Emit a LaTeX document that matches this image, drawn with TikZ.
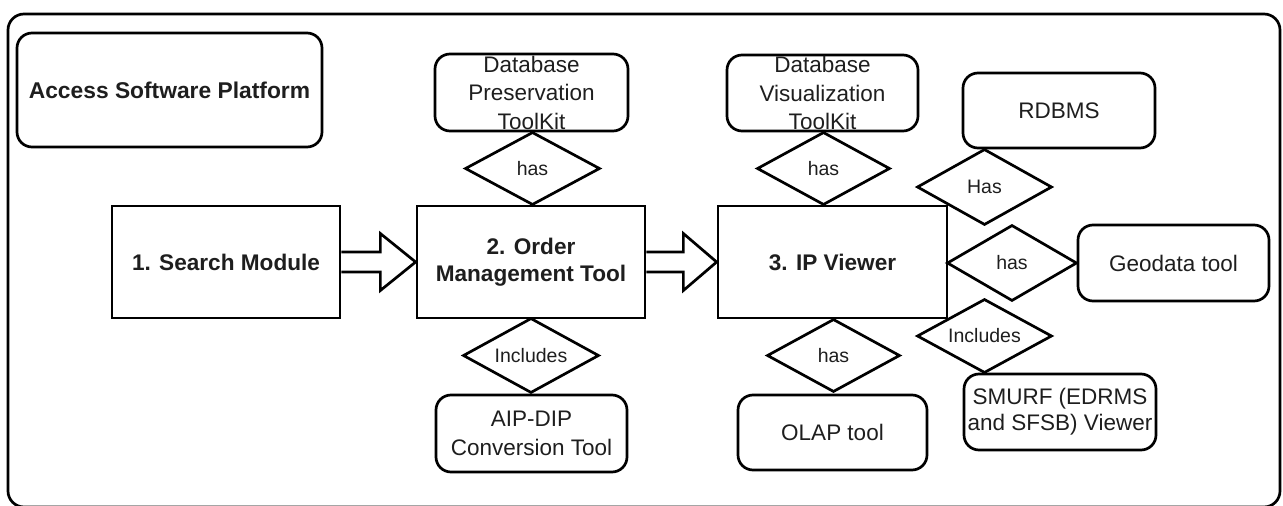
\documentclass[tikz,border=0pt]{standalone}
\usepackage{fontspec}
\setmainfont{Liberation Sans}
\usetikzlibrary{shapes.geometric,calc}
\definecolor{ink}{HTML}{1E1E1E}
\begin{document}
\begin{tikzpicture}[x=1pt,y=-1pt,
  line width=2.7pt,
  frame/.style={draw, rounded corners=16pt},
  rbox/.style={draw, rounded corners=15pt, inner sep=0pt, align=center, text=ink,
    font=\fontsize{22.5}{27.5}\selectfont},
  sbox/.style={draw, inner sep=0pt, align=center, text=ink,
    font=\bfseries\fontsize{22.6}{27}\selectfont,
    minimum width=228pt, minimum height=112pt},
  dia/.style={draw, diamond, inner sep=0pt, aspect=1.8, text=ink,
    font=\fontsize{19.5}{22}\selectfont,
    minimum width=134pt, minimum height=74pt},
  blockarrow/.style={draw, line join=miter, fill=white}]
\useasboundingbox (0,0) rectangle (1283,506);
\draw[frame] (8,14) rectangle (1280,507);

% top-left title box
\node[rbox, minimum width=305pt, minimum height=114pt,
  font=\bfseries\fontsize{22.8}{26}\selectfont] (asp) at (169.5,90) {Access Software Platform};

% main process boxes
\node[sbox] (sm) at (226,262) {1. Search Module};
\node[sbox] (omt) at (531,262) {2. Order\\Management Tool};
\node[sbox, minimum width=229pt] (ipv) at (832.5,262) {3. IP Viewer};

% attached boxes
\node[rbox, minimum width=193pt, minimum height=77pt,
  label={[name=dptl, align=center, inner sep=0pt, text=ink, font=\fontsize{22.5}{28.5}\selectfont]center:{Database\\Preservation\\ToolKit}}] (dpt) at (531.5,92.5) {};
\node[rbox, minimum width=191pt, minimum height=76pt,
  label={[name=dvtl, align=center, inner sep=0pt, text=ink, font=\fontsize{22.5}{28.5}\selectfont]center:{Database\\Visualization\\ToolKit}}] (dvt) at (822.5,93) {};
\node[rbox, minimum width=191pt, minimum height=77pt,
  font=\fontsize{22.5}{29}\selectfont] (aip) at (531.5,433.5) {AIP-DIP\\Conversion Tool};
\node[rbox, minimum width=189pt, minimum height=75pt] (olap) at (832.5,432.5) {OLAP tool};
\node[rbox, minimum width=192pt, minimum height=75pt] (rdbms) at (1059,110.5) {RDBMS};
\node[rbox, minimum width=191pt, minimum height=76pt] (geo) at (1173.5,263) {Geodata tool};
\node[rbox, minimum width=192pt, minimum height=76pt,
  font=\fontsize{22.5}{26}\selectfont] (smurf) at (1060,412) {SMURF (EDRMS\\and SFSB) Viewer};

% relationship diamonds
\node[dia, minimum width=135pt, minimum height=73pt] (d1) at (532.5,168.5) {has};
\node[dia, minimum width=133pt, minimum height=73pt] (d2) at (823.5,168.5) {has};
\node[dia, minimum width=136pt, minimum height=75pt] (d3) at (531,355.5) {Includes};
\node[dia, minimum width=133pt, minimum height=73pt] (d4) at (833.5,355.5) {has};
\node[dia, minimum width=135pt, minimum height=76pt] (d5) at (984.5,187) {Has};
\node[dia, minimum width=130pt, minimum height=76pt] (d6) at (1012,263) {has};
\node[dia, minimum width=135pt, minimum height=74pt] (d7) at (984.5,336) {Includes};

% block arrows
\draw[blockarrow] ($(sm.east)+(0,-10)$) -- ++(39,0) -- ++(0,-18.5)
  -- (omt.west) -- ($(sm.east)+(39,28.5)$) -- ++(0,-18.5) -- ($(sm.east)+(0,10)$);
\draw[blockarrow] ($(omt.east)+(0,-10)$) -- ++(37,0) -- ++(0,-18.5)
  -- (ipv.west) -- ($(omt.east)+(37,28.5)$) -- ++(0,-18.5) -- ($(omt.east)+(0,10)$);
\end{tikzpicture}
\end{document}
